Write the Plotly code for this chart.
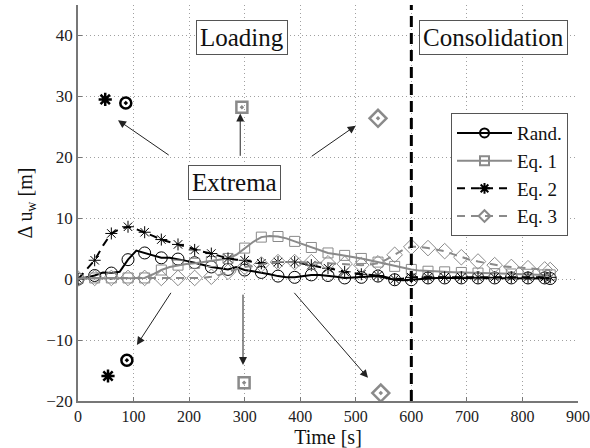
import plotly.graph_objects as go

# ---------------- data ----------------
t = list(range(0, 841, 15)) + [850]

rand = [0.0, 0.3, 0.6, 1.1, 1.0, 1.2, 3.2, 4.7, 4.3, 3.9, 3.5, 3.5, 3.3, 3.0, 2.7,
        2.3, 2.0, 1.8, 1.6, 2.0, 1.5, 1.3, 1.1, 0.8, 0.5, 0.3, 0.3, 0.5, 0.7, 0.7,
        0.6, 0.4, 0.2, 0.3, 0.3, 0.4, 0.5, 0.2, -0.1, -0.2, -0.1, 0.1, 0.2, 0.2, 0.2,
        0.2, 0.2, 0.2, 0.2, 0.2, 0.2, 0.2, 0.2, 0.2, 0.2, 0.2, 0.2, 0.1]
eq1 = [0.1, 0.1, 0.2, 0.2, 0.2, 0.2, 0.2, 0.2, 0.2, 0.8, 1.5, 2.0, 2.3, 2.5, 2.6,
       2.8, 2.9, 3.1, 3.4, 4.0, 5.1, 6.1, 6.9, 7.1, 7.0, 6.7, 6.2, 5.7, 5.2, 4.7,
       4.3, 4.1, 3.9, 3.6, 3.4, 3.1, 2.8, 2.4, 2.1, 1.8, 1.6, 1.4, 1.3, 1.25, 1.2,
       1.15, 1.1, 1.05, 1.0, 0.95, 0.9, 0.9, 0.85, 0.8, 0.8, 0.75, 0.7, 0.7]
eq2 = [0.0, 1.5, 3.1, 5.5, 7.5, 8.2, 8.6, 8.2, 7.7, 7.1, 6.5, 6.1, 5.7, 5.2, 4.8,
       4.5, 4.2, 3.8, 3.4, 3.2, 3.1, 2.8, 2.6, 2.7, 2.8, 2.8, 2.8, 2.5, 2.3, 2.0,
       1.8, 1.5, 1.2, 1.0, 0.8, 0.7, 0.6, 0.3, 0.0, 0.1, 0.3, 0.3, 0.3, 0.3, 0.3,
       0.3, 0.3, 0.3, 0.3, 0.3, 0.3, 0.3, 0.3, 0.3, 0.3, 0.3, 0.3, 0.3]
eq3 = [0.1, 0.2, 0.2, 0.2, 0.2, 0.2, 0.2, 0.2, 0.2, 0.2, 0.2, 0.2, 0.2, 0.2, 0.2,
       0.2, 0.4, 0.7, 1.2, 1.6, 2.0, 2.2, 2.4, 2.6, 2.8, 2.8, 2.8, 2.8, 2.8, 2.7,
       2.6, 2.55, 2.5, 2.4, 2.3, 2.4, 2.6, 3.2, 4.0, 4.8, 5.3, 5.3, 5.1, 4.9, 4.6,
       4.1, 3.6, 3.2, 2.9, 2.6, 2.3, 2.1, 2.0, 1.9, 1.8, 1.7, 1.6, 1.5]

names = ["Rand.", "Eq. 1", "Eq. 2", "Eq. 3"]

# extrema (time, value)
max_t = [86, 295, 49, 540]
max_v = [28.9, 28.2, 29.5, 26.4]
min_t = [88, 299, 54, 545]
min_v = [-13.3, -17.0, -15.9, -18.7]

# ---------------- styles ----------------
GRAY = "#8a8a8a"
styles = [
    dict(color="black", dash="solid", symbol="circle-open", size=12, ext="circle-open-dot", esize=11),
    dict(color=GRAY, dash="solid", symbol="square-open", size=10, ext="square-open-dot", esize=11),
    dict(color="black", dash="8px,6px", symbol="asterisk-open", size=10, ext="asterisk-open", esize=11),
    dict(color=GRAY, dash="8px,6px", symbol="diamond-open", size=12, ext="diamond-open-dot", esize=13),
]
series = [rand, eq1, eq2, eq3]
FONT = "'Liberation Serif', 'Times New Roman', 'DejaVu Serif', serif"

fig = go.Figure()
mk_idx = list(range(0, len(t) - 1, 2)) + [len(t) - 1]
for name, y, s, xm, ym, xn, yn in zip(names, series, styles, max_t, max_v, min_t, min_v):
    fig.add_trace(go.Scatter(x=t, y=y, mode="lines", showlegend=False,
                             line=dict(color=s["color"], dash=s["dash"], width=2)))
    fig.add_trace(go.Scatter(x=[t[i] for i in mk_idx], y=[y[i] for i in mk_idx],
                             mode="markers", showlegend=False,
                             marker=dict(symbol=s["symbol"], size=s["size"], color=s["color"],
                                         line=dict(color=s["color"], width=1))))
    fig.add_trace(go.Scatter(x=[xm, xn], y=[ym, yn], mode="markers", showlegend=False,
                             marker=dict(symbol=s["ext"], size=s["esize"], color=s["color"],
                                         line=dict(color=s["color"], width=2.5))))
    fig.add_trace(go.Scatter(x=[None], y=[None], mode="lines+markers", name=name,
                             line=dict(color=s["color"], dash=s["dash"], width=2),
                             marker=dict(symbol=s["symbol"], size=9, color=s["color"],
                                         line=dict(color=s["color"], width=2))))

# phase boundary
fig.add_shape(type="line", x0=600, x1=600, y0=0, y1=1, xref="x", yref="paper",
              line=dict(color="black", width=3, dash="11px,6px"))

# text boxes
for txt, x, y in [("Loading", 295, 39.6), ("Consolidation", 748, 39.6), ("Extrema", 281, 15.9)]:
    fig.add_annotation(x=x, y=y, xref="x", yref="y", text=txt, showarrow=False,
                       font=dict(family=FONT, size=25, color="#111"),
                       bordercolor="#555", borderwidth=1, borderpad=3, bgcolor="white")

# arrows (tail -> head)
arrows = [((166, 20.2), (72, 26.1)), ((292, 20.0), (292, 27.2)), ((418, 20.0), (500, 25.2)),
          ((169, -2.0), (106, -10.8)), ((297, -2.3), (297, -14.1)), ((387, -2.0), (522, -16.2))]
for (tx, ty), (hx, hy) in arrows:
    fig.add_annotation(x=hx, y=hy, ax=tx, ay=ty, xref="x", yref="y", axref="x", ayref="y",
                       text="", showarrow=True, arrowhead=2, arrowsize=1.6, arrowwidth=1,
                       arrowcolor="#222")

fig.update_layout(
    width=590, height=448,
    margin=dict(l=78, r=12, t=5, b=47, autoexpand=False),
    paper_bgcolor="white", plot_bgcolor="white",
    font=dict(family=FONT, size=16, color="#222"),
    legend=dict(x=0.746, y=0.727, xanchor="left", yanchor="top",
                bordercolor="#555", borderwidth=1, bgcolor="white",
                font=dict(family=FONT, size=19, color="#111"),
                itemwidth=55, tracegroupgap=0),
)
fig.update_xaxes(range=[0, 900], tickvals=list(range(0, 901, 100)),
                 ticklabeloverflow="allow", automargin=False,
                 tickfont=dict(family=FONT, size=16, color="#222"),
                 showgrid=True, gridcolor="#a0a0a0", griddash="1px,3px", gridwidth=1,
                 zeroline=False, showline=True, linecolor="#777", linewidth=1.5,
                 ticks="inside", ticklen=4, tickcolor="#777",
                 title=dict(text="Time [s]", font=dict(family=FONT, size=20, color="#111"),
                            standoff=6))
fig.update_yaxes(range=[-20, 45], tickvals=list(range(-20, 41, 10)),
                 automargin=False,
                 tickfont=dict(family=FONT, size=17, color="#222"),
                 showgrid=True, gridcolor="#a0a0a0", griddash="1px,3px", gridwidth=1,
                 zeroline=False, showline=True, linecolor="#777", linewidth=1.5,
                 ticks="inside", ticklen=4, tickcolor="#777",
                 title=dict(text="Δ u<sub>w</sub> [m]", font=dict(family=FONT, size=20, color="#111"),
                            standoff=8))

fig.write_html("out.html", config={"displayModeBar": False},
               post_script="document.body.style.margin='0';document.body.style.padding='0';")
